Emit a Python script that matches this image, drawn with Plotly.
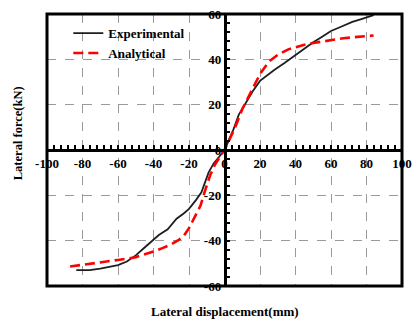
import plotly.graph_objects as go

# Data
exp_x = [-83.5, -76, -70, -65, -60, -55, -50, -45, -41, -37, -32, -29, -27, -23, -20, -16, -13, -9, -6, -3,
         0, 2, 5, 8, 12, 16, 20, 24, 28, 34, 40, 45, 50, 55, 60, 66, 72, 78, 84]
exp_y = [-53, -53, -52.3, -51.5, -50.8, -49.2, -46.5, -43, -40.2, -37.5, -35, -32, -30.3, -28, -26, -22, -18.7, -10, -5.8, -3,
         0, 3.5, 9, 15.5, 21, 26, 30.5, 33, 35.3, 38.5, 42, 45, 47.5, 50, 52.5, 54.5, 56.5, 58, 59.5]

ana_x = [-87, -80, -70, -60, -50, -45, -40, -35, -30, -26, -23, -20, -17, -13.5, -11, -8, -5.5, -2,
         0, 3, 6, 10, 15, 20, 25, 30, 36, 40, 45, 50, 56, 62, 67, 75, 84]
ana_y = [-51.4, -50.7, -49.6, -48.5, -47.3, -46.2, -44.8, -43.3, -41.6, -39.8, -38, -34.5, -30, -24.5, -18, -11, -6.6, -2,
         0, 5, 10, 18, 25.5, 33.5, 39, 42, 44.4, 45.3, 46.4, 47.2, 48, 48.7, 49.3, 49.9, 50.5]

x_ticks = [-100, -80, -60, -40, -20, 0, 20, 40, 60, 80, 100]
y_ticks = [-60, -40, -20, 0, 20, 40, 60]

FONT = "Liberation Serif"

fig = go.Figure()
fig.add_trace(go.Scatter(x=exp_x, y=exp_y, mode="lines", name="Experimental",
                         line=dict(color="#1e1e1e", width=1.8)))
fig.add_trace(go.Scatter(x=ana_x, y=ana_y, mode="lines", name="Analytical",
                         line=dict(color="#ff0000", width=2.6, dash="10px,5px")))

tickfont = dict(family=FONT, size=13, color="black", weight="bold")

fig.update_layout(
    width=419, height=326,
    margin=dict(l=47, r=9, t=7, b=40),
    paper_bgcolor="white", plot_bgcolor="white",
    showlegend=True,
    legend=dict(x=0.06, y=0.985, xanchor="left", yanchor="top",
                bgcolor="rgba(0,0,0,0)", font=dict(family=FONT, size=13, color="black", weight="bold"),
                tracegroupgap=0, itemwidth=30),
    xaxis=dict(range=[-100, 100], domain=[0, 1], anchor="free", position=0.5,
               tickvals=x_ticks, ticktext=[str(v) for v in x_ticks],
               showgrid=True, gridcolor="#9a9a9a", griddash="dash", gridwidth=1,
               zeroline=False, showline=True, linecolor="black", linewidth=2.5,
               ticks="inside", ticklen=4, tickcolor="black", tickwidth=1.5,
               minor=dict(dtick=4, ticks="inside", ticklen=4, tickcolor="black", tickwidth=1.5, showgrid=False),
               tickfont=tickfont, ticklabelstandoff=1, ticklabeloverflow="allow"),
    yaxis=dict(range=[-60, 60], domain=[0, 1], anchor="free", position=0.5,
               tickvals=y_ticks, ticktext=[str(v) for v in y_ticks],
               showgrid=True, gridcolor="#9a9a9a", griddash="dash", gridwidth=1,
               zeroline=False, showline=True, linecolor="black", linewidth=2.5,
               ticks="inside", ticklen=4, tickcolor="black", tickwidth=1.5,
               minor=dict(dtick=4, ticks="inside", ticklen=4, tickcolor="black", tickwidth=1.5, showgrid=False),
               tickfont=tickfont, ticklabelstandoff=0, ticklabeloverflow="allow"),
    shapes=[dict(type="rect", xref="paper", yref="paper", x0=0, x1=1, y0=0, y1=1,
                 line=dict(color="black", width=3), fillcolor="rgba(0,0,0,0)", layer="above")],
    annotations=[
        dict(text="Lateral displacement(mm)", xref="paper", yref="paper", x=0.5, y=-0.06,
             xanchor="center", yanchor="top", showarrow=False,
             font=dict(family=FONT, size=13, color="black", weight="bold")),
        dict(text="Lateral force(kN)", xref="paper", yref="paper", x=-0.083, y=0.56,
             xanchor="center", yanchor="middle", showarrow=False, textangle=-90,
             font=dict(family=FONT, size=12.5, color="black", weight="bold")),
    ],
)

fig.write_html("out.html")
